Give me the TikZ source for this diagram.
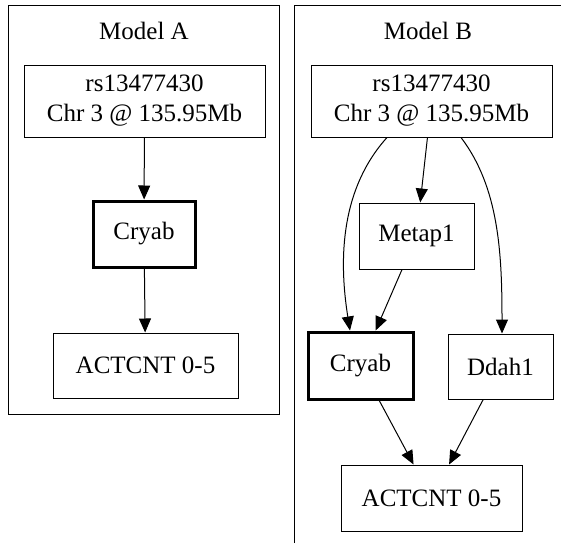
\documentclass[tikz,border=0pt]{standalone}
\usepackage{fontspec}
\setmainfont{Liberation Serif}
\usetikzlibrary{arrows.meta}

\begin{document}
\begin{tikzpicture}[x=1pt, y=-1pt,
    box/.style={draw, line width=1pt, inner sep=0pt, align=center,
      font=\fontsize{25}{30}\selectfont},
    hitbox/.style={box, line width=3pt},
    title/.style={font=\fontsize{25}{30}\selectfont},
    edge/.style={line width=1pt, -{Triangle[length=14pt,width=12pt]}}]
      \useasboundingbox (0,0) rectangle (561,543);

      % Model A
      \draw[line width=1pt] (8,6) rectangle (279,414);
      \node[title, anchor=base] (titleA) at (144,40) {Model A};
      \node[box, minimum width=241pt, minimum height=72pt] (snpA) at (144.5,101) {rs13477430\\Chr 3 @ 135.95Mb};
      \node[hitbox, minimum width=102pt, minimum height=66pt] (cryabA) at (144,234) {Cryab};
      \node[box, minimum width=185pt, minimum height=65pt] (actA) at (145.5,365.5) {ACTCNT 0-5};

      \draw[edge] (snpA) -- (cryabA);
      \draw[edge] (cryabA) -- (actA);

      % Model B
      \draw[line width=1pt] (294,543) -- (294,6) -- (561,6);
      \node[title, anchor=base] (titleB) at (428,40) {Model B};
      \node[box, minimum width=241pt, minimum height=72pt] (snpB) at (431.5,101) {rs13477430\\Chr 3 @ 135.95Mb};
      \node[box, minimum width=115pt, minimum height=66pt] (metap) at (416.5,236) {Metap1};
      \node[hitbox, minimum width=105pt, minimum height=67pt] (cryabB) at (360.5,365.5) {Cryab};
      \node[box, minimum width=105pt, minimum height=65pt] (ddah) at (500.5,366.5) {Ddah1};
      \node[box, minimum width=181pt, minimum height=66pt] (actB) at (431.5,498) {ACTCNT 0-5};

      \draw[edge] ([xshift=-44.5pt]snpB.south) .. controls +(-45,50) and +(-12,-75) .. ([xshift=-10.5pt]cryabB.north);
      \draw[edge] (snpB) -- (metap);
      \draw[edge] ([xshift=29.5pt]snpB.south) .. controls +(38,50) and +(0,-80) .. ([xshift=1.5pt]ddah.north);
      \draw[edge] (metap) -- (cryabB);
      \draw[edge] (cryabB) -- (actB);
      \draw[edge] (ddah) -- (actB);

    \end{tikzpicture}
\end{document}
